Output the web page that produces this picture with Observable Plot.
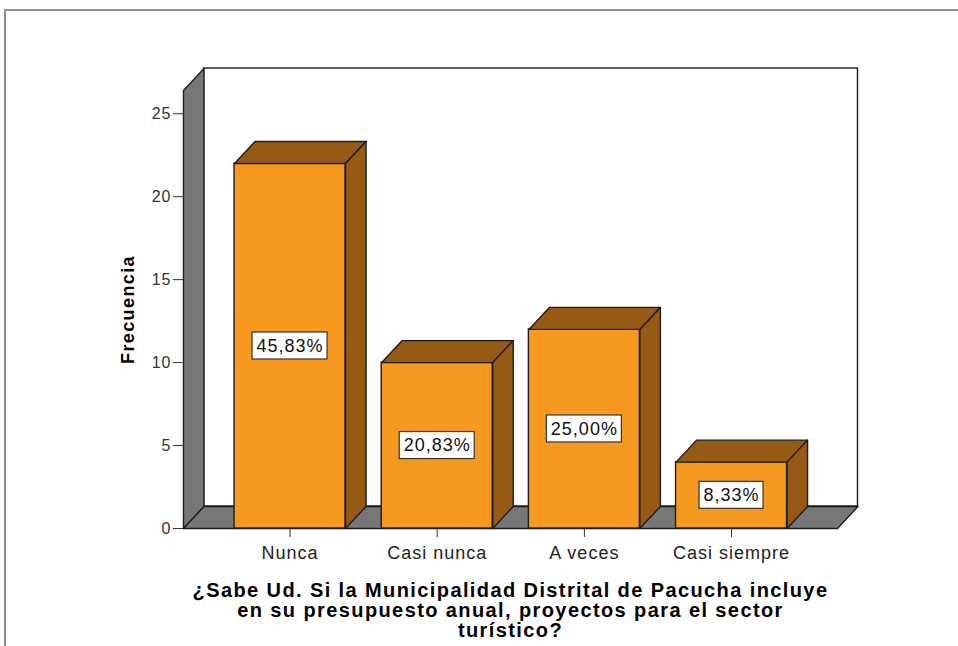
<!DOCTYPE html>
<html><head><meta charset="utf-8">
<script src="https://cdn.jsdelivr.net/npm/d3@7"></script>
<script src="https://cdn.jsdelivr.net/npm/@observablehq/plot@0.6"></script>
<style>
body{margin:0;background:#fff;}
#wrap{position:relative;width:958px;height:646px;overflow:hidden;background:#fff;}
#frame{position:absolute;left:4px;top:9px;width:970px;height:660px;border-top:2px solid #8e8e8e;border-left:2px solid #8e8e8e;}
#chart{position:absolute;left:0;top:0;}
#chart svg text{letter-spacing:1px;}
#chart svg g[font-weight="bold"] text, #chart svg text.bold-title{letter-spacing:1.4px;}
</style></head><body>
<div id="wrap"><div id="frame"></div><div id="chart"></div></div>
<script>
// ---- data ----
const categories = ["Nunca", "Casi nunca", "A veces", "Casi siempre"];
const frequencies = [22, 10, 12, 4];
const percentLabels = ["45,83%", "20,83%", "25,00%", "8,33%"];
const yTicks = [0, 5, 10, 15, 20, 25];
const yLabel = "Frecuencia";
const xLabel = "¿Sabe Ud. Si la Municipalidad Distrital de Pacucha incluye\nen su presupuesto anual, proyectos para el sector\nturístico?";

// ---- layout ----
const W = 958, H = 646;
const mL = 183, mR = 121, mT = 90, mB = 118;
const xDomain = [-0.724, 3.72];
const yMax = 26.4;
const pxX = (xDomain[1] - xDomain[0]) / (W - mL - mR);
const pxY = yMax / (H - mT - mB);
const dX = 20.5 * pxX, dY = 22 * pxY;      // 3D depth offset
const half = 55.5 * pxX;                   // half bar width

const ORANGE = "#f7991f", BROWN = "#975a14", GRAY = "#777777", EDGE = "#1c1c1c";

const bars = categories.map((c, i) => ({i, c, v: frequencies[i], label: percentLabels[i]}));

const poly = (id, pts) => pts.map(([x, y]) => ({id, x, y}));
const x0 = xDomain[0], x1 = xDomain[1];
const leftWall = poly("lw", [[x0, 0], [x0, yMax], [x0 + dX, yMax + dY], [x0 + dX, dY]]);
const floor = poly("fl", [[x0, 0], [x1, 0], [x1 + dX, dY], [x0 + dX, dY]]);
const tops = bars.flatMap(d => poly(d.i, [[d.i - half, d.v], [d.i + half, d.v], [d.i + half + dX, d.v + dY], [d.i - half + dX, d.v + dY]]));
const sides = bars.flatMap(d => poly(d.i, [[d.i + half, d.v], [d.i + half + dX, d.v + dY], [d.i + half + dX, dY], [d.i + half, 0]]));
const boxHalf = d => (d.label.length * 11 + 9) / 2 * pxX;

const chart = Plot.plot({
  width: W, height: H,
  marginLeft: mL, marginRight: mR, marginTop: mT, marginBottom: mB,
  x: {domain: xDomain, axis: null},
  y: {domain: [0, yMax], axis: null},
  style: {fontFamily: "'Liberation Sans', Arial, sans-serif", fontSize: "18px", background: "transparent", overflow: "visible", color: "#222"},
  marks: [
    // back wall
    Plot.rect([0], {x1: x0 + dX, x2: x1 + dX, y1: dY, y2: yMax + dY, fill: "white", stroke: EDGE, strokeWidth: 1.4}),
    // left wall & floor
    Plot.line(leftWall, {x: "x", y: "y", z: "id", curve: "linear-closed", fill: GRAY, stroke: EDGE, strokeWidth: 1.4}),
    Plot.line(floor, {x: "x", y: "y", z: "id", curve: "linear-closed", fill: GRAY, stroke: EDGE, strokeWidth: 1.4}),
    // axes
    Plot.axisY({ticks: yTicks, tickSize: 10, tickPadding: 2, fontSize: 16, stroke: "#333", fill: "#333", label: null}),
    Plot.axisX({ticks: [0, 1, 2, 3], tickFormat: i => categories[i], tickSize: 9, tickPadding: 9, fontSize: 18, stroke: "#333", fill: "#222", label: null}),
    // bars
    Plot.rect(bars, {x1: d => d.i - half, x2: d => d.i + half, y1: 0, y2: "v", fill: ORANGE, stroke: EDGE, strokeWidth: 1.4}),
    Plot.line(tops, {x: "x", y: "y", z: "id", curve: "linear-closed", fill: BROWN, stroke: EDGE, strokeWidth: 1.4}),
    Plot.line(sides, {x: "x", y: "y", z: "id", curve: "linear-closed", fill: BROWN, stroke: EDGE, strokeWidth: 1.4}),
    // percent label boxes
    Plot.rect(bars, {x1: d => d.i - boxHalf(d), x2: d => d.i + boxHalf(d), y1: d => d.v / 2 - 13.5 * pxY, y2: d => d.v / 2 + 13.5 * pxY, fill: "white", stroke: "#333", strokeWidth: 1.2}),
    Plot.text(bars, {x: "i", y: d => d.v / 2, text: "label", fontSize: 18, fill: "#111"}),
    // titles
    Plot.text([yLabel], {x: x0 - 55 * pxX, y: yMax / 2, rotate: -90, fontSize: 18, fontWeight: "bold", fill: "#000"}),
    Plot.text([xLabel], {frameAnchor: "bottom", dy: 54, lineAnchor: "top", lineHeight: 1.0, fontSize: 20, fontWeight: "bold", fill: "#000"})
  ]
});
document.getElementById("chart").appendChild(chart);
</script>
</body></html>
